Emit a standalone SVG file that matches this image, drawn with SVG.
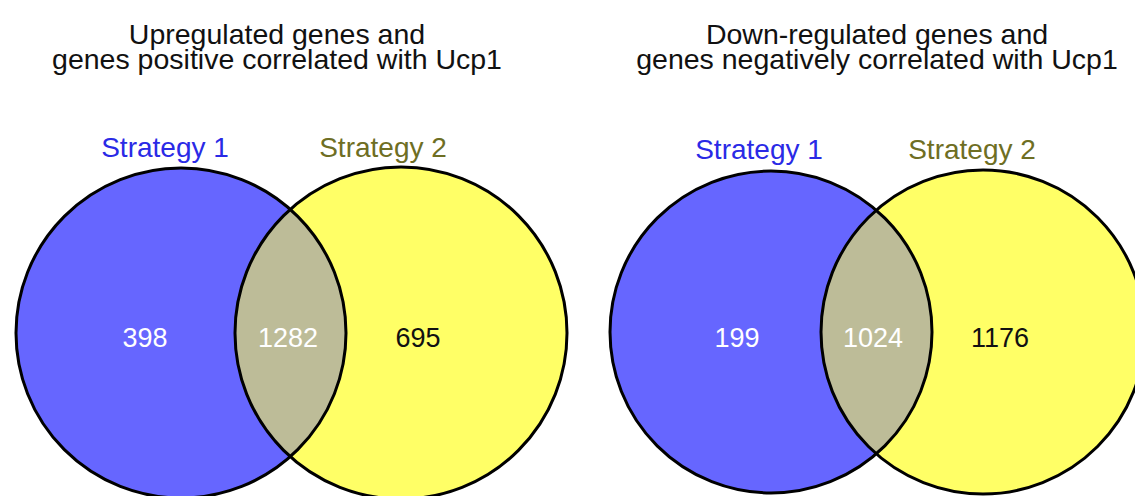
<svg xmlns="http://www.w3.org/2000/svg" width="1135" height="496" viewBox="0 0 1135 496">
  <style>
    text { font-family: "Liberation Sans", Arial, sans-serif; }
    .title { font-size: 28.5px; fill: #111; text-anchor: middle; }
    .lab1 { font-size: 28px; fill: #2a2ae6; text-anchor: middle; }
    .lab2 { font-size: 28px; fill: #6e6e23; text-anchor: middle; }
    .num { font-size: 27px; text-anchor: middle; }
    .light { fill: #ffffff; }
    .dark { fill: #111111; }
    .setA { fill: #6666ff; }
    .setB { fill: #ffff66; }
    .both { fill: #bdbc98; }
    .edge { fill: none; stroke: #000; stroke-width: 3; }
  </style>
  <defs>
    <clipPath id="clipUpA"><circle cx="181" cy="333" r="165"/></clipPath>
    <clipPath id="clipDownA"><circle cx="771" cy="332" r="161"/></clipPath>
  </defs>
  <rect width="1135" height="496" fill="#ffffff"/>

  <!-- Left panel: upregulated / positively correlated -->
  <g id="title-up">
    <text class="title" x="277" y="44">Upregulated genes and</text>
    <text class="title" x="277" y="69">genes positive correlated with Ucp1</text>
  </g>
  <g id="up-strategy1">
    <circle class="setA" cx="181" cy="333" r="165"/>
    <text class="lab1" x="165" y="157">Strategy 1</text>
    <text class="num light" x="145" y="347">398</text>
  </g>
  <g id="up-strategy2">
    <circle class="setB" cx="401" cy="333" r="166"/>
    <text class="lab2" x="383" y="157">Strategy 2</text>
    <text class="num dark" x="418" y="347">695</text>
  </g>
  <g id="up-overlap">
    <circle class="both" cx="401" cy="333" r="166" clip-path="url(#clipUpA)"/>
    <circle class="edge" cx="181" cy="333" r="165"/>
    <circle class="edge" cx="401" cy="333" r="166"/>
    <text class="num light" x="288" y="347">1282</text>
  </g>

  <!-- Right panel: down-regulated / negatively correlated -->
  <g id="title-down">
    <text class="title" x="877" y="44">Down-regulated genes and</text>
    <text class="title" x="877" y="69">genes negatively correlated with Ucp1</text>
  </g>
  <g id="down-strategy1">
    <circle class="setA" cx="771" cy="332" r="161"/>
    <text class="lab1" x="759" y="159">Strategy 1</text>
    <text class="num light" x="737" y="347">199</text>
  </g>
  <g id="down-strategy2">
    <circle class="setB" cx="983" cy="332" r="162"/>
    <text class="lab2" x="972" y="159">Strategy 2</text>
    <text class="num dark" x="1000" y="347">1176</text>
  </g>
  <g id="down-overlap">
    <circle class="both" cx="983" cy="332" r="162" clip-path="url(#clipDownA)"/>
    <circle class="edge" cx="771" cy="332" r="161"/>
    <circle class="edge" cx="983" cy="332" r="162"/>
    <text class="num light" x="873" y="347">1024</text>
  </g>
</svg>
